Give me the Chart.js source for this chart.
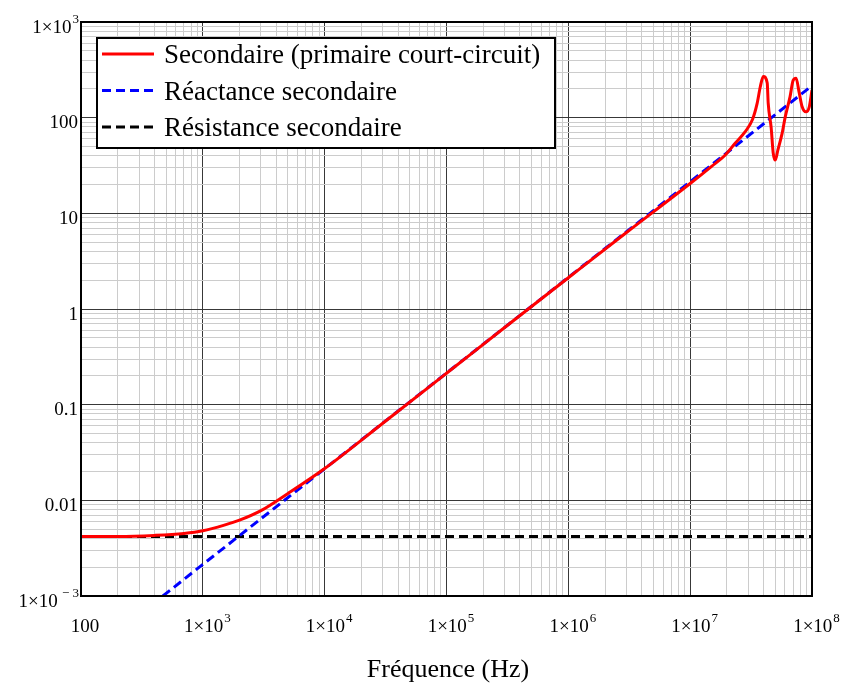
<!DOCTYPE html>
<html>
<head>
<meta charset="utf-8">
<script src="https://cdn.jsdelivr.net/npm/chart.js@4.4.1/dist/chart.umd.min.js"></script>
<style>
html, body { margin: 0; padding: 0; background: #fff; }
</style>
</head>
<body>
<canvas id="myChart" width="842" height="690"></canvas>
<script>
const ctx = document.getElementById('myChart').getContext('2d');

// ---- data ----
const freqSec = [100, 200, 400, 700, 1e3, 1.5e3, 2e3, 3e3, 5e3, 1e4, 3e4, 1e5, 3e5, 1e6, 3e6, 1e7, 1.5e7,
    1.94e7, 2.34e7, 2.82e7, 3.24e7, 3.55e7, 3.76e7, 3.98e7, 4.29e7, 4.37e7, 4.62e7, 4.8e7, 5.0e7, 5.25e7,
    5.69e7, 6.03e7, 6.6e7, 7.0e7, 7.4e7, 7.85e7, 8.3e7, 8.9e7, 9.5e7, 1e8];
const zSecondaire = [0.0042, 0.0042, 0.0043, 0.0045, 0.0048, 0.0055, 0.0062, 0.0078, 0.0118, 0.0215, 0.064, 0.213, 0.64, 2.12, 6.3, 20.5, 31,
    40.7, 54, 71, 95, 142, 209, 270, 230, 142, 79, 43, 36, 46,
    69, 102, 165, 245, 258, 182, 130, 115, 130, 195];

const freqReact = [470, 1e3, 1e4, 1e5, 1e6, 1e7, 1e8];
const xSecondaire = [0.001, 0.00214, 0.0214, 0.214, 2.14, 21.4, 216];

const freqRes = [100, 1e8];
const rSecondaire = [0.0042, 0.0042];

const seriesLabels = ['Secondaire (primaire court-circuit)', 'Réactance secondaire', 'Résistance secondaire'];

const xTicks = [1e2, 1e3, 1e4, 1e5, 1e6, 1e7, 1e8];
const xTickBase = ['100', '1×10', '1×10', '1×10', '1×10', '1×10', '1×10'];
const xTickExp = ['', '3', '4', '5', '6', '7', '8'];
const yTicks = [1e3, 100, 10, 1, 0.1, 0.01, 1e-3];
const yTickBase = ['1×10', '100', '10', '1', '0.1', '0.01', '1×10'];
const yTickExp = ['3', '', '', '', '', '', ' − 3'];
const xTitle = 'Fréquence (Hz)';

const pts = (xs, ys) => xs.map((v, i) => ({x: v, y: ys[i]}));

// decade + 2..9 minor ticks
function logTicks(decades) {
    const lo = Math.min(...decades), hi = Math.max(...decades);
    const out = [];
    for (let d = lo; d < hi * 1.0001; d *= 10) {
        for (let m = 1; m <= 9; m++) {
            const v = d * m;
            if (v <= hi * 1.0001) out.push({value: v, major: m === 1});
        }
    }
    return out;
}
const gridColor = c => (c.tick && c.tick.major) ? '#383838' : '#cccccc';

const SERIF = '"Liberation Serif", "Times New Roman", serif';

function drawPow(c, base, exp, x, y, align) {
    c.font = '19px ' + SERIF;
    const wb = c.measureText(base).width;
    c.font = '13px ' + SERIF;
    const we = exp ? c.measureText(exp).width : 0;
    const w = wb + we;
    let x0 = align === 'right' ? x - w : x - w / 2;
    c.textAlign = 'left';
    c.font = '19px ' + SERIF;
    c.fillText(base, x0, y);
    if (exp) {
        c.font = '13px ' + SERIF;
        c.fillText(exp, x0 + wb + 1, y - 10);
    }
}

const overlay = {
    id: 'overlay',
    afterDraw(chart) {
        const c = chart.ctx, a = chart.chartArea;
        const xs = chart.scales.x, ys = chart.scales.y;
        c.save();
        // frame
        c.strokeStyle = '#000';
        c.lineWidth = 2;
        c.strokeRect(a.left, a.top, a.right - a.left, a.bottom - a.top);
        // tick labels
        c.fillStyle = '#000';
        c.textBaseline = 'alphabetic';
        xTicks.forEach((v, i) => drawPow(c, xTickBase[i], xTickExp[i], xs.getPixelForValue(v) + 4, 632, 'center'));
        yTicks.forEach((v, i) => drawPow(c, yTickBase[i], yTickExp[i], 78, ys.getPixelForValue(v) + 10.5, 'right'));
        // axis title
        c.font = '26px ' + SERIF;
        c.textAlign = 'center';
        c.fillText(xTitle, 448, 677);
        // legend box
        const lx = 97, ly = 38, lw = 458, lh = 110;
        c.fillStyle = '#fff';
        c.fillRect(lx, ly, lw, lh);
        c.strokeStyle = '#000';
        c.lineWidth = 2;
        c.strokeRect(lx, ly, lw, lh);
        const rows = [54, 90.5, 127];
        chart.data.datasets.forEach((ds, i) => {
            c.beginPath();
            c.strokeStyle = ds.borderColor;
            c.lineWidth = 3;
            c.setLineDash(ds.borderDash || []);
            c.moveTo(102, rows[i]);
            c.lineTo(154, rows[i]);
            c.stroke();
            c.setLineDash([]);
            c.fillStyle = '#000';
            c.font = '27px ' + SERIF;
            c.textAlign = 'left';
            c.fillText(ds.label, 164, rows[i] + 9);
        });
        c.restore();
    }
};

const data = {
    datasets: [
    {
        label: seriesLabels[0],
        data: pts(freqSec, zSecondaire),
        borderColor: '#ff0000',
        borderWidth: 3,
        pointRadius: 0,
        cubicInterpolationMode: 'monotone',
        fill: false,
    },
    {
        label: seriesLabels[1],
        data: pts(freqReact, xSecondaire),
        borderColor: '#0000ff',
        borderWidth: 3,
        borderDash: [9, 5],
        pointRadius: 0,
        fill: false,
    },
    {
        label: seriesLabels[2],
        data: pts(freqRes, rSecondaire),
        borderColor: '#000000',
        borderWidth: 3,
        borderDash: [9, 5],
        pointRadius: 0,
        fill: false,
    },
    ],
};

const config = {
    type: 'line',
    data: data,
    options: {
        responsive: false,
        animation: false,
        layout: { padding: { left: 0, top: 22, right: 30, bottom: 0 } },
        plugins: {
            legend: { display: false },
            tooltip: { enabled: false },
        },
        scales: {
            x: {
                type: 'logarithmic',
                min: 100,
                max: 1e8,
                afterBuildTicks: s => { s.ticks = logTicks(xTicks); },
                afterFit: s => { s.height = 94; },
                ticks: { display: false },
                border: { display: false },
                grid: { color: gridColor, lineWidth: 1, drawTicks: false },
            },
            y: {
                type: 'logarithmic',
                min: 1e-3,
                max: 1e3,
                afterBuildTicks: s => { s.ticks = logTicks(yTicks); },
                afterFit: s => { s.width = 81; },
                ticks: { display: false },
                border: { display: false },
                grid: { color: gridColor, lineWidth: 1, drawTicks: false },
            },
        },
    },
    plugins: [overlay],
};

const myChart = new Chart(ctx, config);
</script>
</body>
</html>
